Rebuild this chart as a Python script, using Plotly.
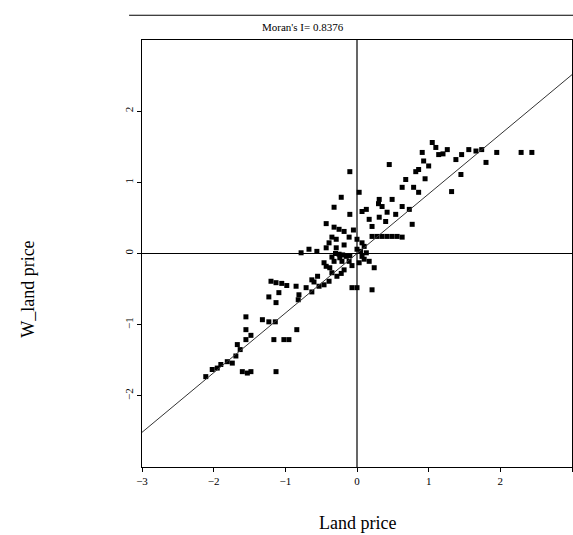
import plotly.graph_objects as go

# Standardised land price (z) and its spatial lag (W_z)
land_price = [
    -2.11, -2.02, -1.95, -1.90, -1.81, -1.74, -1.69, -1.63, -1.67, -1.55, -1.48,
    -1.60, -1.53, -1.48, -1.13, -1.55, -1.55, -1.32, -1.23, -1.14, -1.16, -1.02,
    -0.95, -0.84, -1.23, -1.13, -1.09, -1.20, -1.13, -1.05, -0.98, -0.85, -0.81,
    -0.82, -0.71, -0.63, -0.63, -0.53, -0.46, -0.39, -0.35, -0.28, -0.46, -0.43,
    -0.78, -0.67, -0.56, -0.43, -0.39, -0.35, -0.29, -0.29, -0.25, -0.21, -0.15,
    -0.11, -0.07, 0.00, 0.03, 0.07, 0.13, 0.17, 0.24, 0.21, -0.07, 0.00, -0.18,
    -0.32, -0.25, -0.32, -0.43, -0.32, -0.22, -0.10, -0.10, 0.03, 0.07, 0.13,
    0.17, 0.21, -0.11, 0.00, 0.07, -0.18,
    0.21, 0.28, 0.35, 0.42, 0.49, 0.56, 0.63, 0.31, 0.31, 0.35, 0.42, 0.49,
    0.54, 0.63, 0.73, 0.77, 0.45, 0.63, 0.68, 0.79, 0.86, 0.82, 0.86, 0.93,
    0.91, 1.00, 1.05, 1.10, 1.14, 1.26, 1.38, 1.46, 1.56, 1.66, 1.74, 1.45,
    1.80, 1.32, 1.95, 2.29, 2.44,
    -0.20, -0.24, -0.10, 0.05, 0.10, -0.35, -0.30, -0.38, -0.22, -0.55,
    -0.60, -0.18, 0.10, -0.05, 0.30, 0.95, 1.20, 0.40,
]
w_land_price = [
    -1.73, -1.63, -1.61, -1.56, -1.52, -1.54, -1.44, -1.35, -1.28, -1.21, -1.15,
    -1.66, -1.68, -1.66, -1.66, -1.07, -0.89, -0.93, -0.96, -0.96, -1.21, -1.21,
    -1.21, -1.07, -0.61, -0.69, -0.55, -0.39, -0.41, -0.42, -0.45, -0.46, -0.58,
    -0.65, -0.48, -0.54, -0.37, -0.46, -0.44, -0.39, -0.27, -0.32, -0.13, -0.18,
    0.01, 0.06, 0.03, 0.08, 0.15, 0.23, 0.20, 0.08, -0.01, -0.11, -0.04,
    -0.11, -0.17, 0.06, -0.13, -0.04, 0.01, -0.11, -0.20, -0.51, -0.48, -0.48, -0.23,
    -0.11, 0.34, 0.37, 0.42, 0.65, 0.79, 0.55, 1.15, 0.86, 0.59, 0.62,
    0.48, 0.38, 0.23, 0.20, 0.15, 0.31,
    0.24, 0.24, 0.24, 0.24, 0.24, 0.24, 0.23, 0.51, 0.76, 0.66, 0.58, 0.76,
    0.55, 0.66, 0.62, 0.41, 1.25, 0.93, 1.04, 0.93, 0.86, 1.15, 1.18, 1.30,
    1.42, 1.23, 1.56, 1.49, 1.39, 1.46, 1.32, 1.39, 1.46, 1.44, 1.46, 1.11,
    1.28, 0.87, 1.42, 1.42, 1.42,
    -0.02, -0.06, -0.03, 0.03, -0.08, -0.05, 0.00, -0.20, -0.28, -0.32,
    -0.40, 0.12, 0.10, 0.33, 0.70, 1.05, 1.40, 0.45,
]
morans_i = 0.8376
axis_ticks = [-3, -2, -1, 0, 1, 2, 3]
y_ticks = [-2, -1, 0, 1, 2]

serif = "Liberation Serif, Times New Roman, serif"

fig = go.Figure()

# Moran scatter points
fig.add_trace(go.Scatter(
    x=land_price, y=w_land_price, mode="markers",
    marker=dict(color="black", size=5, symbol="square"),
    showlegend=False, hoverinfo="x+y",
))

# Regression line through the origin with slope = Moran's I
fit_x = [axis_ticks[0], axis_ticks[-1]]
fit_y = [morans_i * v for v in fit_x]
fig.add_trace(go.Scatter(
    x=fit_x, y=fit_y, mode="lines",
    line=dict(color="#333333", width=1),
    showlegend=False, hoverinfo="skip",
))

# Mean reference lines
fig.add_shape(type="line", xref="x", yref="paper", x0=0, x1=0, y0=0, y1=1,
              line=dict(color="black", width=1.2))
fig.add_shape(type="line", xref="paper", yref="y", x0=0, x1=1, y0=0, y1=0,
              line=dict(color="black", width=1.2))

# Outer panel line above the title
fig.add_shape(type="line", xref="paper", yref="paper", x0=-0.03, x1=1.01,
              y0=1.058, y1=1.058, line=dict(color="black", width=1.2))

fig.add_annotation(text="Moran's I= 0.8376", xref="paper", yref="paper",
                   x=0.375, y=1.031, xanchor="center", yanchor="middle",
                   showarrow=False,
                   font=dict(family=serif, size=11, color="black"))
fig.add_annotation(text="W_land price", xref="paper", yref="paper",
                   x=-0.265, y=0.415, xanchor="center", yanchor="middle",
                   textangle=-90, showarrow=False,
                   font=dict(family=serif, size=18, color="black"))
fig.add_annotation(text="Land price", xref="paper", yref="paper",
                   x=0.5, y=-0.13, xanchor="center", yanchor="middle",
                   showarrow=False,
                   font=dict(family=serif, size=18, color="black"))

axis_common = dict(
    showgrid=False, zeroline=False, showline=True, linecolor="black",
    linewidth=1.2, mirror=True, ticks="outside", ticklen=4,
    tickcolor="black", tickfont=dict(family=serif, size=11, color="black"),
)

fig.update_xaxes(range=[-3, 3], tickvals=axis_ticks, **axis_common)
fig.update_yaxes(range=[-3, 3], tickvals=y_ticks, tickangle=-90, **axis_common)

fig.update_layout(
    width=573, height=535,
    margin=dict(l=142, r=1, t=40, b=68),
    paper_bgcolor="white", plot_bgcolor="white",
)

fig.write_html("out.html")
